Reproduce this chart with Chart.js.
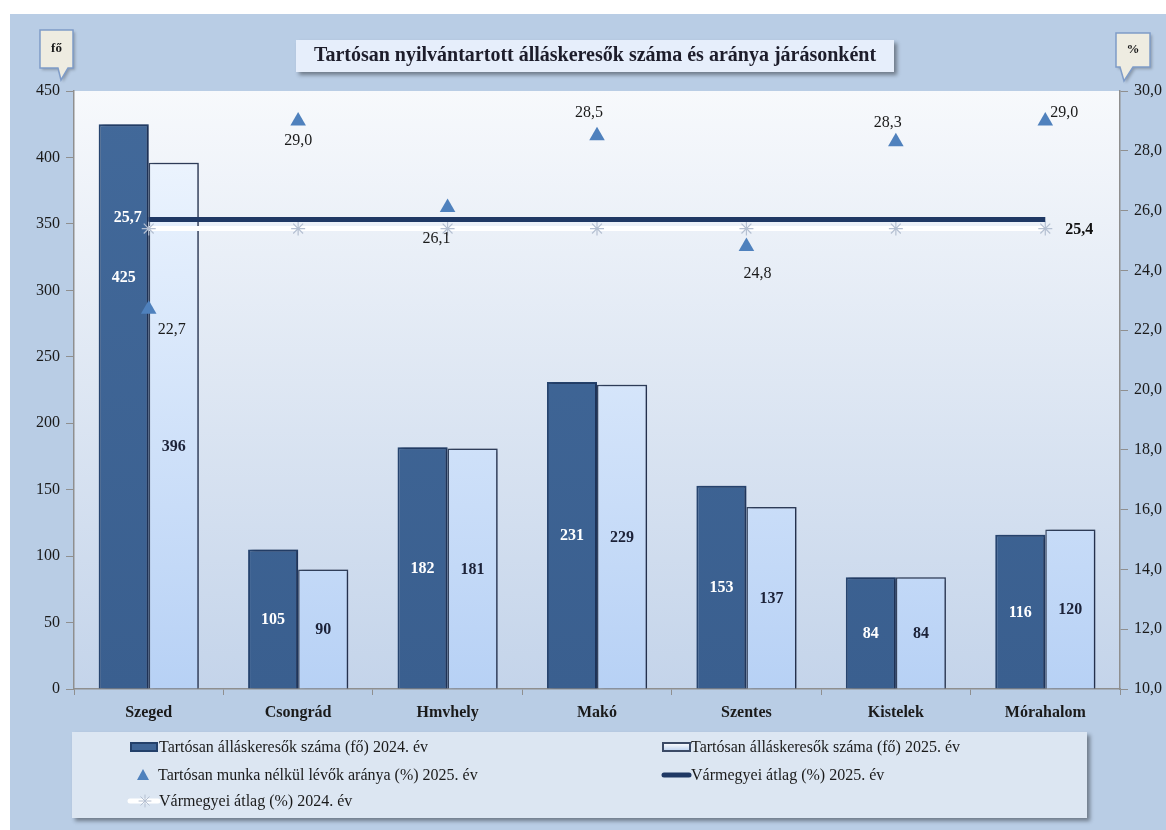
<!DOCTYPE html>
<html>
<head>
<meta charset="utf-8">
<script src="https://cdn.jsdelivr.net/npm/chart.js@4/dist/chart.umd.min.js"></script>
<style>
  html, body { margin: 0; padding: 0; background: #fff; }
  #wrap { width: 1166px; height: 830px; position: relative; }
</style>
</head>
<body>
<div id="wrap"><canvas id="myChart" width="1166" height="830"></canvas></div>
<script>
const SERIF = '"Liberation Serif", "Times New Roman", serif';

const categories = ['Szeged', 'Csongrád', 'Hmvhely', 'Makó', 'Szentes', 'Kistelek', 'Mórahalom'];
const jobseekers2024 = [425, 105, 182, 231, 153, 84, 116];
const jobseekers2025 = [396, 90, 181, 229, 137, 84, 120];
const rate2025 = [22.7, 29.0, 26.1, 28.5, 24.8, 28.3, 29.0];
const countyAvg2025 = [25.7, 25.7, 25.7, 25.7, 25.7, 25.7, 25.7];
const countyAvg2024 = [25.4, 25.4, 25.4, 25.4, 25.4, 25.4, 25.4];
const leftTicks = { min: 0, max: 450, step: 50 };
const rightTicks = { min: 10, max: 30, step: 2 };

const seriesNames = [
    'Tartósan álláskeresők száma (fő) 2024. év',
    'Tartósan álláskeresők száma (fő) 2025. év',
    'Tartósan munka nélkül lévők aránya (%) 2025. év',
    'Vármegyei átlag (%) 2025. év',
    'Vármegyei átlag (%) 2024. év'
];
const title = 'Tartósan nyilvántartott álláskeresők száma és aránya járásonként';

// label offsets for the triangle points (px from the point)
const triLabelOffset = [[23, 21], [0, 20], [-11, 31], [-8, -23], [11, 27], [-8, -19], [19, -8]];

const fmt = v => v.toFixed(1).replace('.', ',');

function lightBarFill(context) {
    const chart = context.chart;
    const area = chart.chartArea;
    if (!area) return '#dbe9fb';
    const g = chart.ctx.createLinearGradient(0, area.top, 0, area.bottom);
    g.addColorStop(0, '#f2f8ff');
    g.addColorStop(1, '#b7d1f5');
    return g;
}

function darkBarFill(context) {
    const chart = context.chart;
    const area = chart.chartArea;
    if (!area) return '#3d6494';
    const g = chart.ctx.createLinearGradient(0, area.top, 0, area.bottom);
    g.addColorStop(0, '#42699a');
    g.addColorStop(1, '#3a5f8f');
    return g;
}

const backgroundPlugin = {
    id: 'bg',
    beforeDraw(chart) {
        const ctx = chart.ctx;
        const a = chart.chartArea;
        ctx.save();
        ctx.fillStyle = '#ffffff';
        ctx.fillRect(0, 0, chart.width, chart.height);
        ctx.fillStyle = '#b9cde5';
        ctx.fillRect(10, 14, chart.width - 10, chart.height - 14);
        const g = ctx.createLinearGradient(0, a.top, 0, a.bottom);
        g.addColorStop(0, '#f7f9fc');
        g.addColorStop(1, '#c4d4ea');
        ctx.fillStyle = g;
        ctx.fillRect(a.left, a.top, a.right - a.left, a.bottom - a.top);
        ctx.restore();
    }
};

// shadow for the bars
const shadowPlugin = {
    id: 'barShadow',
    beforeDatasetDraw(chart, args) {
        if (args.index > 1) return;
        const ctx = chart.ctx;
        ctx.save();
        ctx.shadowColor = 'rgba(20,30,60,0.55)';
        ctx.shadowOffsetX = 3;
        ctx.shadowOffsetY = 0;
        ctx.shadowBlur = 3;
    },
    afterDatasetDraw(chart, args) {
        if (args.index > 1) return;
        chart.ctx.restore();
    }
};

function callout(ctx, x1, y1, x2, y2, tipX, tipY, baseL, baseR, text) {
    ctx.save();
    ctx.shadowColor = 'rgba(0,0,0,0.25)';
    ctx.shadowOffsetX = 2;
    ctx.shadowOffsetY = 2;
    ctx.shadowBlur = 3;
    ctx.beginPath();
    ctx.moveTo(x1, y1);
    ctx.lineTo(x2, y1);
    ctx.lineTo(x2, y2);
    ctx.lineTo(baseR, y2);
    ctx.lineTo(tipX, tipY);
    ctx.lineTo(baseL, y2);
    ctx.lineTo(x1, y2);
    ctx.closePath();
    ctx.fillStyle = '#eeece1';
    ctx.fill();
    ctx.shadowColor = 'transparent';
    ctx.strokeStyle = '#7f9cc8';
    ctx.lineWidth = 1.5;
    ctx.stroke();
    ctx.fillStyle = '#1a1a1a';
    ctx.font = 'bold 13px ' + SERIF;
    ctx.textAlign = 'center';
    ctx.textBaseline = 'middle';
    ctx.fillText(text, (x1 + x2) / 2, (y1 + y2) / 2);
    ctx.restore();
}

const labelsPlugin = {
    id: 'labels',
    afterDatasetsDraw(chart) {
        const ctx = chart.ctx;
        ctx.save();
        ctx.textAlign = 'center';
        ctx.textBaseline = 'middle';

        // bar values
        const ys = chart.scales.y;
        [0, 1].forEach(di => {
            const meta = chart.getDatasetMeta(di);
            ctx.font = 'bold 16px ' + SERIF;
            ctx.fillStyle = di === 0 ? '#ffffff' : '#1c2238';
            meta.data.forEach((bar, i) => {
                const v = chart.data.datasets[di].data[i];
                let y = (bar.y + bar.base) / 2;
                // Szeged labels sit lower to leave room for the lines
                if (i === 0) y = di === 0 ? ys.getPixelForValue(310) : ys.getPixelForValue(183);
                ctx.fillText(String(v), bar.x, y + 1);
            });
        });

        // triangle values
        const tri = chart.getDatasetMeta(2);
        ctx.font = '16px ' + SERIF;
        ctx.fillStyle = '#1a1a1a';
        tri.data.forEach((p, i) => {
            const o = triLabelOffset[i];
            ctx.fillText(fmt(rate2025[i]), p.x + o[0], p.y + o[1]);
        });

        // average labels
        const l25 = chart.getDatasetMeta(3).data[0];
        ctx.font = 'bold 16px ' + SERIF;
        ctx.fillStyle = '#ffffff';
        ctx.fillText(fmt(countyAvg2025[0]), l25.x - 21, l25.y - 2);
        const m24 = chart.getDatasetMeta(4).data;
        const l24 = m24[m24.length - 1];
        ctx.fillStyle = '#111111';
        ctx.fillText(fmt(countyAvg2024[countyAvg2024.length - 1]), l24.x + 34, l24.y + 1);
        ctx.restore();
    },
    afterDraw(chart) {
        const ctx = chart.ctx;
        ctx.save();

        // title box
        ctx.shadowColor = 'rgba(0,0,0,0.4)';
        ctx.shadowOffsetX = 3;
        ctx.shadowOffsetY = 3;
        ctx.shadowBlur = 4;
        ctx.fillStyle = '#e6eefb';
        ctx.fillRect(296, 40, 598, 32);
        ctx.shadowColor = 'transparent';
        ctx.fillStyle = '#1d1d2b';
        ctx.font = 'bold 20px ' + SERIF;
        ctx.textAlign = 'center';
        ctx.textBaseline = 'middle';
        ctx.fillText(title, 595, 56, 588);

        // axis unit callouts
        callout(ctx, 40, 30, 73, 68, 61, 80, 58, 68, 'fő');
        callout(ctx, 1116, 33, 1150, 67, 1124, 81, 1120, 1133, '%');

        // legend
        ctx.save();
        ctx.shadowColor = 'rgba(0,0,0,0.4)';
        ctx.shadowOffsetX = 3;
        ctx.shadowOffsetY = 3;
        ctx.shadowBlur = 4;
        ctx.fillStyle = '#dce6f2';
        ctx.fillRect(72, 732, 1015, 86);
        ctx.restore();

        const rows = [747, 775, 801];
        const items = [
            { x: 130, y: rows[0], kind: 'dark' },
            { x: 662, y: rows[0], kind: 'light' },
            { x: 130, y: rows[1], kind: 'tri' },
            { x: 662, y: rows[1], kind: 'navy' },
            { x: 130, y: rows[2], kind: 'white' }
        ];
        items.forEach((it, k) => {
            const sx = it.x, sy = it.y;
            if (it.kind === 'dark') {
                ctx.fillStyle = '#23406a';
                ctx.fillRect(sx, sy - 5, 28, 10);
                ctx.fillStyle = '#3f6596';
                ctx.fillRect(sx + 2, sy - 3, 24, 6);
            } else if (it.kind === 'light') {
                ctx.fillStyle = '#3b4a66';
                ctx.fillRect(sx, sy - 5, 29, 10);
                const g = ctx.createLinearGradient(0, sy - 4, 0, sy + 4);
                g.addColorStop(0, '#ffffff');
                g.addColorStop(1, '#b9cfee');
                ctx.fillStyle = g;
                ctx.fillRect(sx + 2, sy - 3, 25, 6);
            } else if (it.kind === 'tri') {
                ctx.fillStyle = '#4f81bd';
                ctx.beginPath();
                ctx.moveTo(sx + 13, sy - 6);
                ctx.lineTo(sx + 19, sy + 5);
                ctx.lineTo(sx + 7, sy + 5);
                ctx.closePath();
                ctx.fill();
            } else if (it.kind === 'navy') {
                ctx.strokeStyle = '#1f3864';
                ctx.lineWidth = 5;
                ctx.lineCap = 'round';
                ctx.beginPath();
                ctx.moveTo(sx + 2, sy);
                ctx.lineTo(sx + 27, sy);
                ctx.stroke();
            } else if (it.kind === 'white') {
                ctx.strokeStyle = '#ffffff';
                ctx.lineWidth = 5;
                ctx.lineCap = 'round';
                ctx.beginPath();
                ctx.moveTo(sx, sy);
                ctx.lineTo(sx + 28, sy);
                ctx.stroke();
                ctx.strokeStyle = '#b5c0d2';
                ctx.lineWidth = 1;
                const cx = sx + 15, r = 6;
                ctx.beginPath();
                ctx.moveTo(cx - r, sy); ctx.lineTo(cx + r, sy);
                ctx.moveTo(cx, sy - r); ctx.lineTo(cx, sy + r);
                ctx.moveTo(cx - r * 0.7, sy - r * 0.7); ctx.lineTo(cx + r * 0.7, sy + r * 0.7);
                ctx.moveTo(cx - r * 0.7, sy + r * 0.7); ctx.lineTo(cx + r * 0.7, sy - r * 0.7);
                ctx.stroke();
            }
            ctx.fillStyle = '#1a1a1a';
            ctx.font = '16px ' + SERIF;
            ctx.textAlign = 'left';
            ctx.textBaseline = 'middle';
            const tx = it.kind === 'tri' ? sx + 28 : sx + 29;
            ctx.fillText(seriesNames[k], tx, sy + 1);
        });
        ctx.restore();
    }
};

const data = {
    labels: categories,
    datasets: [{
        type: 'bar',
        label: seriesNames[0],
        data: jobseekers2024,
        backgroundColor: darkBarFill,
        borderColor: '#26446f',
        borderWidth: 2,
        yAxisID: 'y',
        order: 4,
        categoryPercentage: 0.67,
        barPercentage: 1.0
    }, {
        type: 'bar',
        label: seriesNames[1],
        data: jobseekers2025,
        backgroundColor: lightBarFill,
        borderColor: '#34435e',
        borderWidth: 1.5,
        yAxisID: 'y',
        order: 5,
        categoryPercentage: 0.67,
        barPercentage: 1.0
    }, {
        type: 'line',
        label: seriesNames[2],
        data: rate2025,
        showLine: false,
        pointStyle: 'triangle',
        pointRadius: 9,
        pointBackgroundColor: '#4f81bd',
        pointBorderColor: '#4f81bd',
        pointBorderWidth: 0,
        yAxisID: 'y1',
        order: 1
    }, {
        type: 'line',
        label: seriesNames[3],
        data: countyAvg2025,
        borderColor: '#1f3864',
        borderWidth: 5,
        pointRadius: 0,
        yAxisID: 'y1',
        order: 2
    }, {
        type: 'line',
        label: seriesNames[4],
        data: countyAvg2024,
        borderColor: '#ffffff',
        borderWidth: 5,
        pointStyle: 'star',
        pointRadius: 7,
        pointBorderColor: '#b5c0d2',
        pointBorderWidth: 1.2,
        pointBackgroundColor: '#ffffff',
        yAxisID: 'y1',
        order: 3
    }]
};

const tickFont = { family: SERIF, size: 16 };

const config = {
    type: 'bar',
    data: data,
    options: {
        responsive: false,
        animation: false,
        layout: { padding: { top: 91, left: 0, right: 0, bottom: 101 } },
        plugins: {
            legend: { display: false },
            title: { display: false },
            tooltip: { enabled: false }
        },
        scales: {
            x: {
                offset: true,
                grid: { offset: true, drawOnChartArea: false, drawTicks: true, tickLength: 6, color: '#8f8f8f' },
                border: { color: '#8f8f8f', width: 1.5 },
                ticks: { font: { family: SERIF, size: 16, weight: 'bold' }, color: '#1a1a1a', padding: 8, maxRotation: 0 },
                afterFit: s => { s.height = 40; }
            },
            y: {
                position: 'left',
                min: leftTicks.min,
                max: leftTicks.max,
                grid: { drawOnChartArea: false, drawTicks: true, tickLength: 8, color: '#8f8f8f' },
                border: { color: '#8f8f8f', width: 1.5 },
                ticks: { stepSize: leftTicks.step, font: tickFont, color: '#1a1a1a', padding: 6 },
                afterFit: s => { s.width = 74; }
            },
            y1: {
                position: 'right',
                min: rightTicks.min,
                max: rightTicks.max,
                grid: { drawOnChartArea: false, drawTicks: true, tickLength: 8, color: '#8f8f8f' },
                border: { color: '#8f8f8f', width: 1.5 },
                ticks: { stepSize: rightTicks.step, font: tickFont, color: '#1a1a1a', padding: 6, callback: v => fmt(v) },
                afterFit: s => { s.width = 46; }
            }
        }
    },
    plugins: [backgroundPlugin, shadowPlugin, labelsPlugin]
};

const myChart = new Chart(document.getElementById('myChart'), config);
</script>
</body>
</html>
